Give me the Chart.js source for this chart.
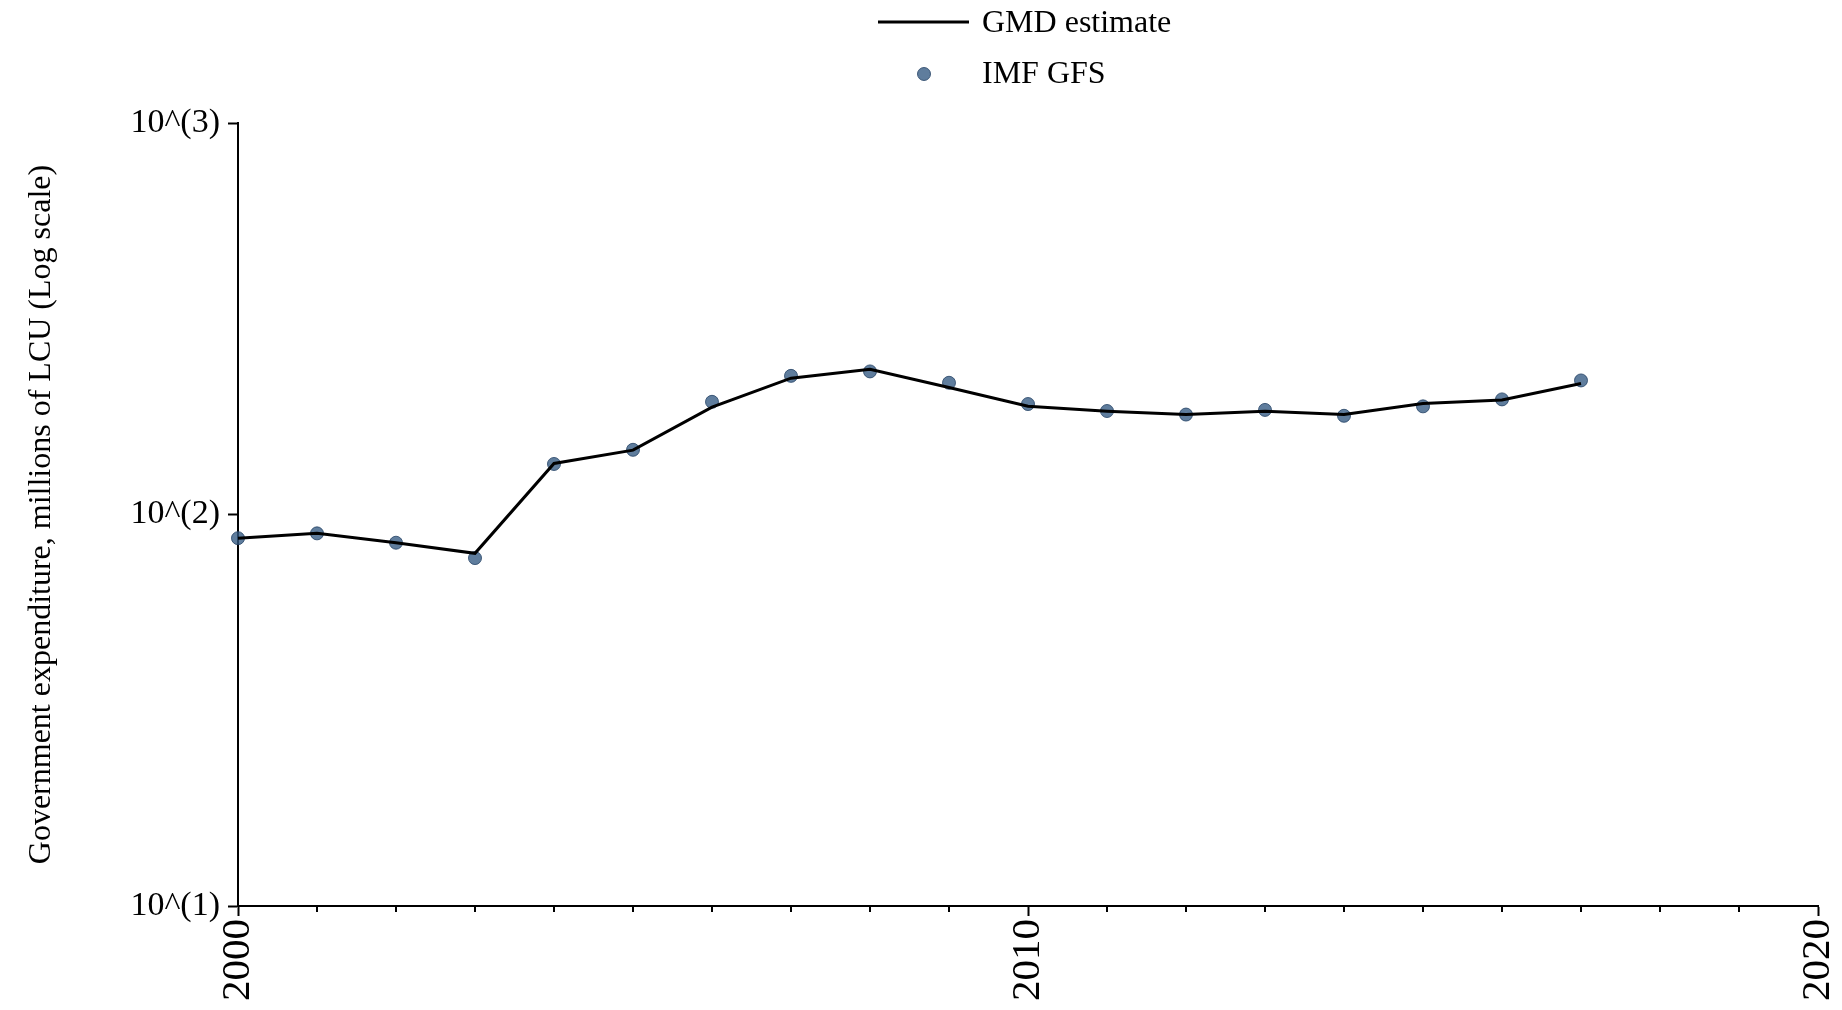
<!DOCTYPE html>
<html>
<head>
<meta charset="utf-8">
<script src="https://cdn.jsdelivr.net/npm/chart.js@4/dist/chart.umd.min.js"></script>
<style>
  html, body { margin: 0; padding: 0; background: #fff; }
  #wrap { width: 1842px; height: 1010px; }
</style>
</head>
<body>
<div id="wrap"><canvas id="myChart" width="1842" height="1010"></canvas></div>
<script>
// values (millions of LCU)
const years = [2000, 2001, 2002, 2003, 2004, 2005, 2006, 2007, 2008, 2009,
               2010, 2011, 2012, 2013, 2014, 2015, 2016, 2017];
const gmdEstimate = [87, 89.5, 84.7, 79.6, 135, 146, 188, 223, 235, 211,
                     189, 183.5, 180, 183.5, 180, 192, 196, 216];
const imfGfs = [87, 89.5, 84.7, 77.4, 134.6, 146.3, 194, 226, 232, 217,
                191.5, 183.8, 180, 185, 178.7, 188.9, 196.8, 220];
const yTicks = [10, 100, 1000];
const yTickLabels = ['10^(1)', '10^(2)', '10^(3)'];
const xMin = 2000, xMax = 2020;

const serif = '"Liberation Serif", "DejaVu Serif", serif';

function pts(ys) {
  return years.map((y, i) => ({ x: y, y: ys[i] }));
}

// stacked legend at the top + minor year ticks
const extras = {
  id: 'extras',
  afterDraw(chart) {
    const ctx = chart.ctx;
    const xs = chart.scales.x;
    const bottom = chart.chartArea.bottom;
    ctx.save();
    // minor ticks every year
    ctx.strokeStyle = '#000';
    ctx.lineWidth = 2;
    for (let v = xMin; v <= xMax; v++) {
      if (v % 10 === 0) continue;
      let px = xs.getPixelForValue(v);
      ctx.beginPath();
      ctx.moveTo(px, bottom);
      ctx.lineTo(px, bottom + 6);
      ctx.stroke();
    }
    // legend
    let ds = chart.data.datasets;
    ctx.font = '32px ' + serif;
    ctx.textBaseline = 'middle';
    ctx.fillStyle = '#000';
    ctx.strokeStyle = ds[0].borderColor;
    ctx.lineWidth = 3;
    ctx.beginPath();
    ctx.moveTo(878, 22);
    ctx.lineTo(969, 22);
    ctx.stroke();
    ctx.fillText(ds[0].label, 982, 24);
    ctx.beginPath();
    ctx.arc(924, 74, 6.5, 0, Math.PI * 2);
    ctx.fillStyle = ds[1].backgroundColor;
    ctx.fill();
    ctx.strokeStyle = ds[1].borderColor;
    ctx.lineWidth = 1;
    ctx.stroke();
    ctx.fillStyle = '#000';
    ctx.fillText(ds[1].label, 982, 75);
    ctx.restore();
  }
};

new Chart(document.getElementById('myChart'), {
  type: 'line',
  data: {
    datasets: [
      {
        label: 'GMD estimate',
        data: pts(gmdEstimate),
        borderColor: '#000',
        borderWidth: 3,
        pointRadius: 0,
        tension: 0,
        clip: false
      },
      {
        label: 'IMF GFS',
        data: pts(imfGfs),
        showLine: false,
        backgroundColor: 'rgba(50,88,130,0.78)',
        borderColor: 'rgba(35,65,100,0.8)',
        borderWidth: 1,
        pointRadius: 6.5,
        clip: false
      }
    ]
  },
  options: {
    responsive: false,
    animation: false,
    devicePixelRatio: 1,
    layout: { padding: { top: 123, right: 24, bottom: 0, left: 0 } },
    plugins: { legend: { display: false }, tooltip: { enabled: false } },
    scales: {
      x: {
        type: 'linear',
        min: xMin,
        max: xMax,
        afterFit: s => { s.height = 104; s.paddingLeft = 0; s.paddingRight = 0; },
        border: { color: '#000', width: 2 },
        grid: {
          drawOnChartArea: false,
          tickLength: 10,
          tickWidth: 2,
          tickColor: c => (c.tick && c.tick.value % 10 === 0) ? '#000' : 'rgba(0,0,0,0)'
        },
        ticks: {
          stepSize: 1,
          autoSkip: false,
          maxRotation: 90,
          minRotation: 90,
          padding: 3,
          color: '#000',
          font: { family: serif, size: 41 },
          callback: v => (v % 10 === 0 ? String(v) : '')
        }
      },
      y: {
        type: 'logarithmic',
        min: 10,
        max: 1000,
        afterFit: s => { s.width = 238; s.paddingTop = 0; s.paddingBottom = 0; },
        afterBuildTicks: s => { s.ticks = yTicks.map(v => ({ value: v })); },
        border: { color: '#000', width: 2 },
        grid: { drawOnChartArea: false, tickLength: 10, tickWidth: 2, tickColor: '#000' },
        ticks: {
          padding: 8,
          color: '#000',
          font: { family: serif, size: 34 },
          callback: v => yTickLabels[yTicks.indexOf(v)]
        },
        title: {
          display: true,
          text: 'Government expenditure, millions of LCU (Log scale)',
          color: '#000',
          font: { family: serif, size: 32 },
          padding: { top: 22, bottom: 0 }
        }
      }
    }
  },
  plugins: [extras]
});
</script>
</body>
</html>
